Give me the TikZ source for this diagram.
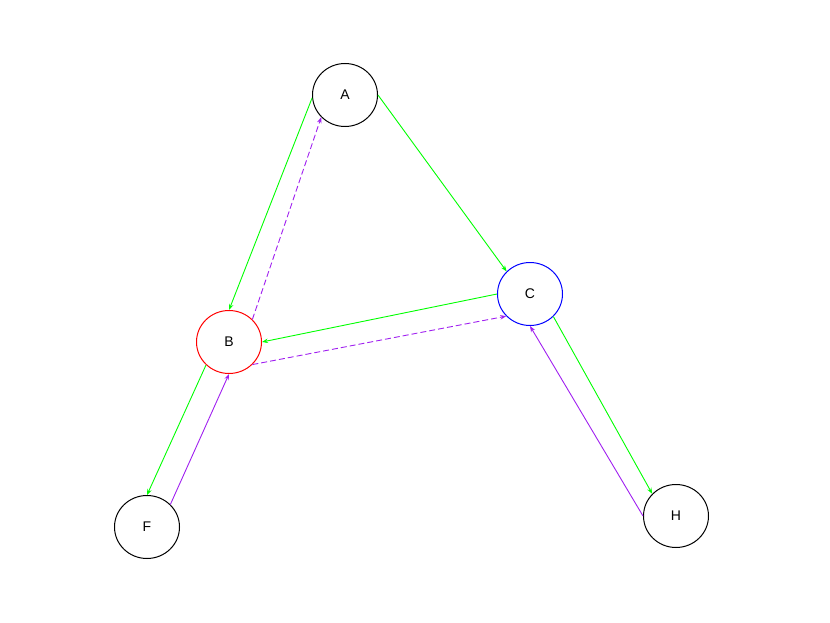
\documentclass[tikz,border=0pt]{standalone}
\usepackage{fontspec}
\setmainfont{Liberation Sans}
\usetikzlibrary{shapes.geometric,arrows.meta}
\definecolor{egreen}{RGB}{0,255,0}
\definecolor{epurple}{RGB}{160,32,240}
\begin{document}
\begin{tikzpicture}[x=1pt,y=-1pt,
  vnode/.style={draw=black,ellipse,minimum width=65pt,minimum height=63pt,inner sep=0pt,line width=1pt,font=\fontsize{14}{16}\selectfont},
  gedge/.style={draw=egreen,line width=0.9pt,-{Stealth[length=6pt,width=4.5pt]}},
  pedge/.style={draw=epurple,line width=0.9pt,-{Stealth[length=6pt,width=4.5pt]}},
  pdash/.style={pedge,dash pattern=on 6pt off 3pt}]
\useasboundingbox (0,0) rectangle (830,623);
\node[vnode] (A) at (345,95) {A};
\node[vnode,draw=red] (B) at (229,342) {B};
\node[vnode,draw=blue] (C) at (530,294) {C};
\node[vnode] (F) at (147,527) {F};
\node[vnode] (H) at (676,516) {H};
\draw[gedge] (A.185) -- (B.90);
\draw[pdash] (B.44) -- (A.223);
\draw[gedge] (A.0) -- (C.136);
\draw[gedge] (C.180) -- (B.0);
\draw[pdash] (B.-44) -- (C.223);
\draw[gedge] (B.225) -- (F.90);
\draw[pedge] (F.44) -- (B.270);
\draw[gedge] (C.-44) -- (H.137);
\draw[pedge] (H.180) -- (C.270);
\end{tikzpicture}
\end{document}
